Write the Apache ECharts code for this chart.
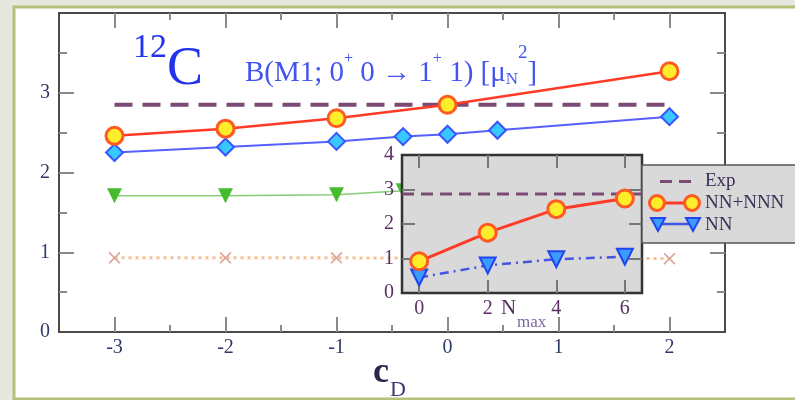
<!DOCTYPE html>
<html>
<head>
<meta charset="utf-8">
<script src="https://cdn.jsdelivr.net/npm/echarts@6/dist/echarts.min.js"></script>
<style>
html,body{margin:0;padding:0;background:#e8e7df;}
#chart{width:795px;height:400px;}
</style>
</head>
<body>
<div id="chart"></div>
<script>
// ---- data ----
const cdNNN = [-3, -2, -1, 0, 2];
const bNNN = [2.46, 2.55, 2.68, 2.85, 3.27];
const cdBlue = [-3, -2, -1, -0.4, 0, 0.45, 2];
const bBlue = [2.25, 2.32, 2.39, 2.45, 2.48, 2.53, 2.70];
const cdGreen = [-3, -2, -1, -0.4];
const bGreen = [1.71, 1.71, 1.72, 1.77];
const cdOrange = [-3, -2, -1, 2];
const bOrange = [0.93, 0.93, 0.93, 0.92];
const cdExp = [-3, 2];
const bExp = [2.85, 2.85];

const nmax = [0, 2, 4, 6];
const insetNNNNN = [0.92, 1.75, 2.43, 2.74];
const insetNN = [0.45, 0.80, 0.98, 1.05];
const nmaxExp = [-0.5, 6.5];
const insetExp = [2.87, 2.87];

const xTickLabels = [-3, -2, -1, 0, 1, 2];
const xMinorTicks = [-2.5, -1.5, -0.5, 0.5, 1.5];
const yTickLabels = [0, 1, 2, 3];
const yMajorTicks = [1, 2, 3];
const yMinorTicks = [0.5, 1.5, 2.5, 3.5];
const insetXTickLabels = [0, 2, 4, 6];
const insetYTickLabels = [0, 1, 2, 3, 4];
const insetYTicks = [1, 2, 3];

const legendNames = ['Exp', 'NN+NNN', 'NN'];

const pairs = (xs, ys) => xs.map((x, i) => [x, ys[i]]);
const SERIF = "'Liberation Serif','DejaVu Serif',serif";
const TITLE_BLUE = '#4455ee';

function axis(opts) {
  return {
    type: 'value',
    gridIndex: opts.grid,
    position: opts.position,
    min: opts.min, max: opts.max,
    splitLine: { show: false },
    axisLine: { show: false, onZero: false },
    axisTick: {
      show: true, inside: true, length: opts.len,
      customValues: opts.ticks,
      lineStyle: { color: opts.tickColor || '#8a8a8a', width: 2 }
    },
    axisLabel: opts.labels ? {
      show: true, customValues: opts.labels, fontSize: 20, fontFamily: SERIF,
      color: opts.labelColor, margin: opts.margin
    } : { show: false },
    z: opts.z || 0
  };
}

const chart = echarts.init(document.getElementById('chart'), null, { renderer: 'canvas' });

const xCross = 'path://M0,1 L1,0 L5,4 L9,0 L10,1 L6,5 L10,9 L9,10 L5,6 L1,10 L0,9 L4,5 Z';

const option = {
  animation: false,
  backgroundColor: '#e8e7df',
  grid: [
    { left: 59, top: 13, width: 666, height: 319, show: true, borderColor: '#4a4a4a', borderWidth: 2, backgroundColor: 'transparent', z: 0 },
    { left: 402, top: 155, width: 240, height: 138, show: true, borderColor: '#333', borderWidth: 2.5, backgroundColor: '#d9d9d9', z: 5 }
  ],
  xAxis: [
    axis({ grid: 0, position: 'bottom', min: -3.5, max: 2.5, len: 15, ticks: xTickLabels, labels: xTickLabels, labelColor: '#2f3a66', margin: 6 }),
    axis({ grid: 0, position: 'bottom', min: -3.5, max: 2.5, len: 7, ticks: xMinorTicks }),
    axis({ grid: 0, position: 'top', min: -3.5, max: 2.5, len: 15, ticks: xTickLabels }),
    axis({ grid: 0, position: 'top', min: -3.5, max: 2.5, len: 7, ticks: xMinorTicks }),
    axis({ grid: 1, position: 'bottom', min: -0.5, max: 6.5, len: 13, ticks: insetXTickLabels, labels: insetXTickLabels, labelColor: '#5a3063', margin: 6, z: 6, tickColor: '#777' }),
    axis({ grid: 1, position: 'top', min: -0.5, max: 6.5, len: 13, ticks: insetXTickLabels, z: 6, tickColor: '#777' })
  ],
  yAxis: [
    axis({ grid: 0, position: 'left', min: 0, max: 4, len: 15, ticks: yMajorTicks, labels: yTickLabels, labelColor: '#2f3a66', margin: 9 }),
    axis({ grid: 0, position: 'left', min: 0, max: 4, len: 8, ticks: yMinorTicks }),
    axis({ grid: 0, position: 'right', min: 0, max: 4, len: 15, ticks: yMajorTicks }),
    axis({ grid: 0, position: 'right', min: 0, max: 4, len: 8, ticks: yMinorTicks }),
    axis({ grid: 1, position: 'left', min: 0, max: 4, len: 13, ticks: insetYTicks, labels: insetYTickLabels, labelColor: '#5a3063', margin: 8, z: 6, tickColor: '#777' }),
    axis({ grid: 1, position: 'right', min: 0, max: 4, len: 13, ticks: insetYTicks, z: 6, tickColor: '#777' })
  ],
  series: [
    // main panel
    { type: 'line', name: 'orange', xAxisIndex: 0, yAxisIndex: 0, data: pairs(cdOrange, bOrange),
      lineStyle: { color: '#f7c08e', width: 3, type: [3, 4] }, symbol: xCross, symbolSize: 12,
      itemStyle: { color: '#d9a596' }, z: 2 },
    { type: 'line', name: 'green', xAxisIndex: 0, yAxisIndex: 0, data: pairs(cdGreen, bGreen),
      lineStyle: { color: '#86cc76', width: 1.5 }, symbol: 'triangle', symbolRotate: 180, symbolSize: 15,
      itemStyle: { color: '#46bb2e' }, z: 2 },
    { type: 'line', name: 'ExpMain', xAxisIndex: 0, yAxisIndex: 0, data: pairs(cdExp, bExp),
      lineStyle: { color: '#7a4a74', width: 4, type: [18, 10] }, symbol: 'none', z: 2 },
    { type: 'line', name: 'blue', xAxisIndex: 0, yAxisIndex: 0, data: pairs(cdBlue, bBlue),
      lineStyle: { color: '#5560ff', width: 2 }, symbol: 'diamond', symbolSize: 17,
      itemStyle: { color: '#36c8ff', borderColor: '#3a55ff', borderWidth: 2 }, z: 3 },
    { type: 'line', name: 'red', xAxisIndex: 0, yAxisIndex: 0, data: pairs(cdNNN, bNNN),
      lineStyle: { color: '#ff3a26', width: 2.5 }, symbol: 'circle', symbolSize: 17,
      itemStyle: { color: '#ffec2a', borderColor: '#ff5a22', borderWidth: 3 }, z: 3 },
    // inset
    { type: 'line', name: 'Exp', xAxisIndex: 4, yAxisIndex: 4, data: pairs(nmaxExp, insetExp),
      lineStyle: { color: '#7a4a74', width: 3, type: [12, 7] }, symbol: 'none', z: 8 },
    { type: 'line', name: 'NN', xAxisIndex: 4, yAxisIndex: 4, data: pairs(nmax, insetNN),
      lineStyle: { color: '#4455e0', width: 2.5, type: [9, 5, 2, 5] }, symbol: 'triangle', symbolRotate: 180, symbolSize: 16,
      itemStyle: { color: '#3a9cff', borderColor: '#2244ee', borderWidth: 2 }, z: 8 },
    { type: 'line', name: 'NN+NNN', xAxisIndex: 4, yAxisIndex: 4, data: pairs(nmax, insetNNNNN),
      lineStyle: { color: '#ff3a26', width: 3 }, symbol: 'circle', symbolSize: 17,
      itemStyle: { color: '#ffec2a', borderColor: '#ff5a22', borderWidth: 3 }, z: 9 }
  ],
  graphic: [
    // white panel
    { type: 'rect', z: -10, shape: { x: 14, y: 7, width: 800, height: 392 },
      style: { fill: '#ffffff', stroke: '#b5c079', lineWidth: 3 } },
    // 12C
    { type: 'text', z: 4, style: { text: '12', x: 133, y: 48, textVerticalAlign: 'middle', font: '34px ' + SERIF, fill: '#2233ee' } },
    { type: 'text', z: 4, style: { text: 'C', x: 167, y: 70, textVerticalAlign: 'middle', font: '54px ' + SERIF, fill: '#2233ee' } },
    // B(M1 ...)
    { type: 'text', z: 4, style: {
        x: 245, y: 36, textVerticalAlign: 'top', fill: TITLE_BLUE,
        text: '{m|B(M1; 0}{s|+}{m| 0 → 1}{s|+}{m| 1) [μ}{n|N}{t|2}{m|]}',
        rich: {
          m: { fontSize: 29, fontFamily: SERIF, fill: TITLE_BLUE, lineHeight: 52, verticalAlign: 'bottom' },
          s: { fontSize: 16, fontFamily: SERIF, fill: TITLE_BLUE, verticalAlign: 'top', padding: [15, 0, 0, 0] },
          n: { fontSize: 17, fontFamily: SERIF, fill: TITLE_BLUE, verticalAlign: 'bottom' },
          t: { fontSize: 19, fontFamily: SERIF, fill: TITLE_BLUE, verticalAlign: 'top', padding: [8, 0, 0, 0] }
        }
      } },
    // c_D
    { type: 'text', z: 4, style: { text: 'c', x: 373, y: 373, textVerticalAlign: 'middle', font: 'bold 36px ' + SERIF, fill: '#2a2848' } },
    { type: 'text', z: 4, style: { text: 'D', x: 390, y: 390, textVerticalAlign: 'middle', font: '22px ' + SERIF, fill: '#3a3a70' } },
    // N_max
    { type: 'text', z: 7, style: { text: 'N', x: 501, y: 308, textVerticalAlign: 'middle', font: '21px ' + SERIF, fill: '#5a3063' } },
    { type: 'text', z: 7, style: { text: 'max', x: 517, y: 323, textVerticalAlign: 'middle', font: '17px ' + SERIF, fill: '#7a6a98' } },
    // legend
    { type: 'group', z: 20, children: [
      { type: 'rect', z: 20, shape: { x: 642, y: 165, width: 160, height: 78 },
        style: { fill: '#d9d9d9', stroke: '#555', lineWidth: 1.5 } },
      { type: 'line', z: 21, shape: { x1: 660, y1: 181.5, x2: 691, y2: 181.5 },
        style: { stroke: '#7a4a74', lineWidth: 3, lineDash: [12, 7] } },
      { type: 'line', z: 21, shape: { x1: 657, y1: 203, x2: 692, y2: 203 },
        style: { stroke: '#ff3a26', lineWidth: 3 } },
      { type: 'circle', z: 22, shape: { cx: 657, cy: 203, r: 7.5 }, style: { fill: '#ffec2a', stroke: '#ff5a22', lineWidth: 3 } },
      { type: 'circle', z: 22, shape: { cx: 692, cy: 203, r: 7.5 }, style: { fill: '#ffec2a', stroke: '#ff5a22', lineWidth: 3 } },
      { type: 'line', z: 21, shape: { x1: 658, y1: 224, x2: 693, y2: 224 },
        style: { stroke: '#4455e0', lineWidth: 2.5 } },
      { type: 'polygon', z: 22, shape: { points: [[651, 218], [665, 218], [658, 231]] }, style: { fill: '#3a9cff', stroke: '#2244ee', lineWidth: 2 } },
      { type: 'polygon', z: 22, shape: { points: [[686, 218], [700, 218], [693, 231]] }, style: { fill: '#3a9cff', stroke: '#2244ee', lineWidth: 2 } },
      { type: 'text', z: 22, style: { text: legendNames[0], x: 705, y: 181, textVerticalAlign: 'middle', font: '19px ' + SERIF, fill: '#3b2f55' } },
      { type: 'text', z: 22, style: { text: legendNames[1], x: 705, y: 203, textVerticalAlign: 'middle', font: '19px ' + SERIF, fill: '#3b2f55' } },
      { type: 'text', z: 22, style: { text: legendNames[2], x: 705, y: 225, textVerticalAlign: 'middle', font: '19px ' + SERIF, fill: '#3b2f55' } }
    ] }
  ]
};
chart.setOption(option);
</script>
</body>
</html>
